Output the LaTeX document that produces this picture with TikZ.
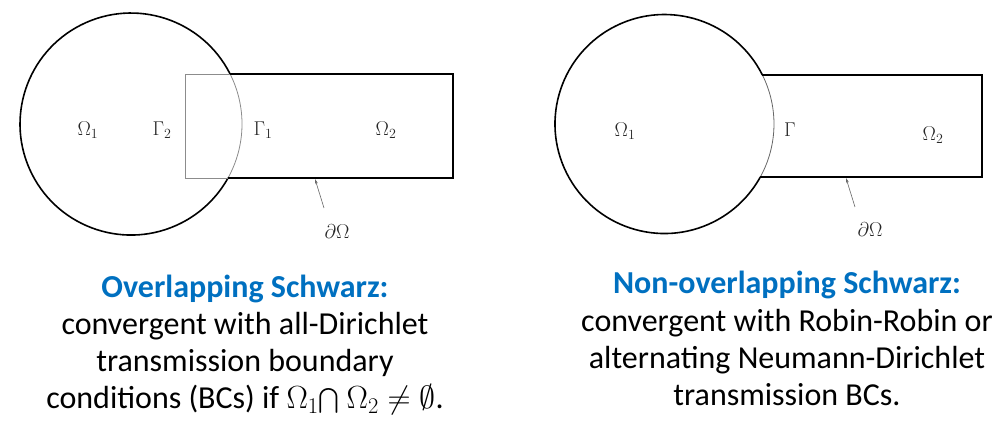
\RequirePackage{fix-cm}
\documentclass[tikz,border=0pt]{standalone}
\usepackage{amsmath}
\usepackage{fontspec}
\setmainfont{Carlito}
\usetikzlibrary{arrows.meta}
\definecolor{titleblue}{HTML}{0070C0}
\begin{document}
\begin{tikzpicture}[x=1pt,y=1pt,
  thickline/.style={line width=1.6pt,black},
  thinline/.style={line width=0.8pt,black!45},
  thinarc/.style={line width=0.8pt,black!60},
  lab/.style={font=\fontsize{20}{24}\selectfont,text=black!85,inner sep=0pt},
  ptr/.style={line width=0.6pt,black!60,-{Stealth[length=5pt,width=3pt]}},
  capline/.style={anchor=base,font=\fontsize{32}{37}\selectfont,inner sep=0pt,text height=23pt,text depth=7pt},
  captitle/.style={capline,font=\fontsize{32}{37}\selectfont\bfseries,text=titleblue}]
\useasboundingbox (0,0) rectangle (999,444);
% ---------- left figure ----------
\coordinate (c1) at (131,320);
\coordinate (lt) at (230.1,370);
\coordinate (lb) at (228,266);
\coordinate (ltr) at (453,370);
\coordinate (lbr) at (453,266);
\coordinate (ltl) at (185,370);
\coordinate (lbl) at (185,266);
\draw[thickline] (lt) arc[start angle=26.8, end angle=330.9, radius=111];
\draw[thinline] (lb) arc[start angle=-29.1, end angle=26.8, radius=111];
\draw[thickline] (lt) -- (ltr) -- (lbr) -- (lb);
\draw[thinline] (lt) -- (ltl) -- (lbl) -- (lb);
\node[lab] (om1) at (88,314) {$\Omega_1$};
\node[lab] (ga2) at (162,314) {$\Gamma_2$};
\node[lab] (ga1) at (263,314) {$\Gamma_1$};
\node[lab] (om2) at (386,314) {$\Omega_2$};
\node[lab] (dom) at (337,212) {$\partial\Omega$};
\coordinate (ltip) at (315,265);
\coordinate (ltail) at (324,236);
\draw[ptr] (ltail) -- (ltip);
% ---------- right figure ----------
\coordinate (c2) at (664.5,320);
\coordinate (rt) at (762.4,369);
\coordinate (rb) at (760.3,267);
\coordinate (rtr) at (982,369);
\coordinate (rbr) at (982,267);
\draw[thickline] (rt) arc[start angle=26.6, end angle=331.05, radius=109.5];
\draw[thinarc] (rb) arc[start angle=-28.95, end angle=26.6, radius=109.5];
\draw[thickline] (rt) -- (rtr) -- (rbr) -- (rb);
\node[lab] (rom1) at (625,313) {$\Omega_1$};
\node[lab] (rga) at (790,314) {$\Gamma$};
\node[lab] (rom2) at (933,309) {$\Omega_2$};
\node[lab] (rdom) at (870,214) {$\partial\Omega$};
\coordinate (rtip) at (846,266);
\coordinate (rtail) at (855,237);
\draw[ptr] (rtail) -- (rtip);
% ---------- captions ----------
\node[captitle] (capl1) at (245,146) {Overlapping Schwarz:};
\node[capline] (capl2) at (245,109) {convergent with all-Dirichlet};
\node[capline] (capl3) at (245,72) {transmission boundary};
\node[capline] (capl4) at (245,35) {conditions (BCs) if $\Omega_1{\bigcap}\ \Omega_2\neq\emptyset$.};
\node[captitle] (capr1) at (787,150) {Non-overlapping Schwarz:};
\node[capline] (capr2) at (787,112) {convergent with Robin-Robin or};
\node[capline] (capr3) at (787,75) {alternating Neumann-Dirichlet};
\node[capline] (capr4) at (787,38) {transmission BCs.};
\end{tikzpicture}
\end{document}
